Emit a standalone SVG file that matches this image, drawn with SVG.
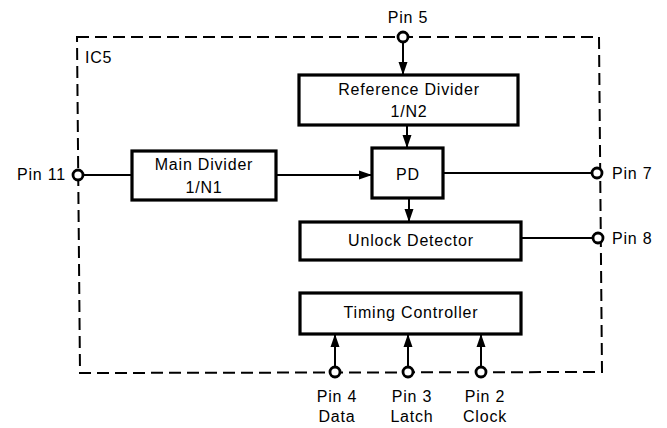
<svg xmlns="http://www.w3.org/2000/svg" width="667" height="428" viewBox="0 0 667 428">
<style>
text{font-family:"Liberation Sans",Arial,sans-serif;font-size:16px;letter-spacing:0.8px;fill:#000}
.c{text-anchor:middle}
.box{fill:#fff;stroke:#000;stroke-width:3.2}
.ln{fill:none;stroke:#000;stroke-width:2}
.pin{fill:#fff;stroke:#000;stroke-width:2.8}
.bd{fill:none;stroke:#000;stroke-width:2;stroke-dasharray:12 6}
</style>
<defs>
<marker id="ah" markerWidth="13" markerHeight="10" refX="13" refY="5" orient="auto" markerUnits="userSpaceOnUse">
<path d="M0,0.5 L13,5 L0,9.5 Z" fill="#000"/>
</marker>
</defs>
<g id="ic5">
<path class="bd" d="M77,37 L599,37 L602,372 L80,373 Z"/>
<text x="85" y="63">IC5</text>
</g>
<g id="connectors">
<path class="ln" d="M403,42 V75" marker-end="url(#ah)"/>
<path class="ln" d="M407,125 V148" marker-end="url(#ah)"/>
<path class="ln" d="M83,175 H132"/>
<path class="ln" d="M276,175 H372" marker-end="url(#ah)"/>
<path class="ln" d="M443,173 H592"/>
<path class="ln" d="M409,198 V222" marker-end="url(#ah)"/>
<path class="ln" d="M521,238 H592"/>
<path class="ln" d="M335,367 V334" marker-end="url(#ah)"/>
<path class="ln" d="M408,367 V334" marker-end="url(#ah)"/>
<path class="ln" d="M481,367 V334" marker-end="url(#ah)"/>
</g>
<g id="ref-divider">
<rect class="box" x="299" y="75" width="219" height="50"/>
<text class="c" x="409" y="95">Reference Divider</text>
<text class="c" x="409" y="117">1/N2</text>
</g>
<g id="main-divider">
<rect class="box" x="132" y="151" width="144" height="49"/>
<text class="c" x="204" y="170">Main Divider</text>
<text class="c" x="204" y="193">1/N1</text>
</g>
<g id="pd">
<rect class="box" x="372" y="148" width="71" height="50"/>
<text class="c" x="408" y="180">PD</text>
</g>
<g id="unlock-detector">
<rect class="box" x="300" y="222" width="221" height="38"/>
<text class="c" x="411" y="246">Unlock Detector</text>
</g>
<g id="timing-controller">
<rect class="box" x="300" y="293" width="221" height="41"/>
<text class="c" x="411" y="318">Timing Controller</text>
</g>
<g id="pin5"><circle class="pin" cx="403" cy="37" r="5"/><text class="c" x="408" y="23">Pin 5</text></g>
<g id="pin11"><circle class="pin" cx="78" cy="175" r="5"/><text x="66" y="180" text-anchor="end">Pin 11</text></g>
<g id="pin7"><circle class="pin" cx="597" cy="173" r="5"/><text x="612" y="179">Pin 7</text></g>
<g id="pin8"><circle class="pin" cx="598" cy="238" r="5"/><text x="612" y="244">Pin 8</text></g>
<g id="pin4"><circle class="pin" cx="335" cy="372" r="5"/><text class="c" x="337" y="402">Pin 4</text><text class="c" x="337" y="422">Data</text></g>
<g id="pin3"><circle class="pin" cx="408" cy="372" r="5"/><text class="c" x="412" y="402">Pin 3</text><text class="c" x="412" y="422">Latch</text></g>
<g id="pin2"><circle class="pin" cx="481" cy="372" r="5"/><text class="c" x="485" y="402">Pin 2</text><text class="c" x="485" y="422">Clock</text></g>
</svg>
